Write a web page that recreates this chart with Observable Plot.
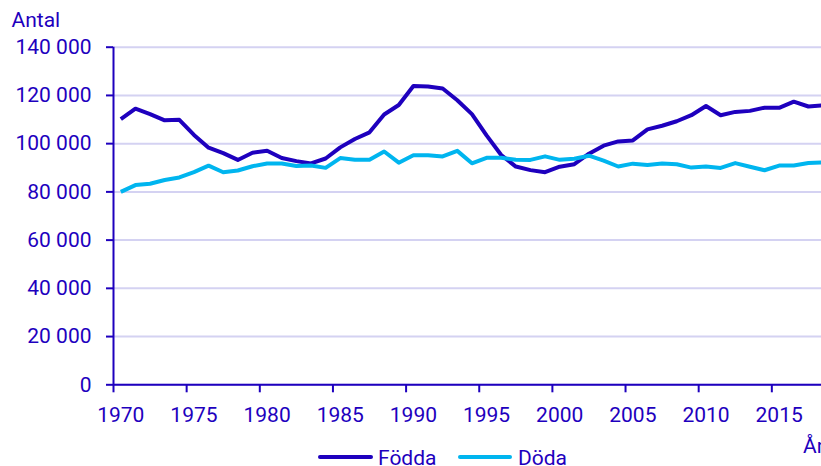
<!DOCTYPE html>
<html><head><meta charset="utf-8">
<script src="https://cdn.jsdelivr.net/npm/d3@7"></script>
<script src="https://cdn.jsdelivr.net/npm/@observablehq/plot@0.6"></script>
<style>
html,body{margin:0;padding:0;overflow:hidden;background:#fff;}
#wrap{position:relative;width:821px;height:466px;overflow:hidden;font-family:Roboto,sans-serif;color:#1e00be;background:#fff;}
#chart svg{display:block;max-width:none !important;width:840px !important;height:466px !important;}
.sw{position:absolute;height:4px;border-radius:2px;}
.lt{position:absolute;font-size:21px;line-height:16px;white-space:nowrap;}
</style></head>
<body><div id="wrap"><div id="chart"></div><div id="legend"></div></div>
<script>
const years = [1970,1971,1972,1973,1974,1975,1976,1977,1978,1979,1980,1981,1982,1983,1984,1985,1986,1987,1988,1989,1990,1991,1992,1993,1994,1995,1996,1997,1998,1999,2000,2001,2002,2003,2004,2005,2006,2007,2008,2009,2010,2011,2012,2013,2014,2015,2016,2017,2018];
const fodda = [110150,114484,112273,109663,109874,103632,98345,96057,93248,96255,97064,94065,92748,91780,93843,98463,101950,104699,112080,116023,123938,123737,122848,117998,112257,103422,95297,90502,89028,88173,90441,91466,95815,99157,100928,101346,105913,107421,109301,111801,115641,111770,113177,113593,114907,114870,117425,115416,115832];
const doda = [80026,82818,83398,84941,85978,88208,90863,88140,88880,90645,91800,91750,90774,90958,89962,94032,93295,93332,96743,92110,95161,95203,94710,97008,91844,94126,94133,93326,93271,94726,93285,93752,95009,92961,90532,91710,91177,91729,91449,90080,90487,89938,91938,90402,88976,90907,90982,91972,92185];
const tickYears = [1970,1975,1980,1985,1990,1995,2000,2005,2010,2015];
const yTicks = [0,20000,40000,60000,80000,100000,120000,140000];
const seriesNames = ["Födda","Döda"];
const seriesColors = ["#1e00be","#00b5ef"];
const yLabel = "Antal";
const xLabel = "År";

const dark = "#1e00be";
const rows = [];
years.forEach((yr, i) => {
  rows.push({year: yr, value: fodda[i], serie: seriesNames[0]});
  rows.push({year: yr, value: doda[i], serie: seriesNames[1]});
});
const fmt = d => d3.format(",")(d).replace(/,/g, " ");

const chart = Plot.plot({
  width: 840,
  height: 466,
  marginLeft: 113,
  marginRight: 16,
  marginTop: 46.7,
  marginBottom: 81.7,
  style: {fontFamily: "Roboto, sans-serif", fontSize: "21px", color: dark, background: "white", overflow: "visible", maxWidth: "none"},
  x: {domain: [1970, 2018.6], label: null},
  y: {domain: [0, 140000], label: null},
  color: {domain: seriesNames, range: seriesColors},
  marks: [
    Plot.gridY(yTicks, {stroke: "#d4d2f2", strokeOpacity: 1, strokeWidth: 2}),
    Plot.axisY(yTicks, {tickSize: 7, tickPadding: 15, tickFormat: fmt, strokeWidth: 2, label: null}),
    Plot.axisX(tickYears, {tickSize: 8, tickFormat: () => "", strokeWidth: 2, label: null}),
    Plot.axisX(tickYears.map(t => t + 0.5), {tickSize: 0, tickPadding: 22, tickFormat: d => String(Math.floor(d)), label: null}),
    Plot.ruleX([years[0]], {stroke: dark, strokeWidth: 2}),
    Plot.ruleY([0], {stroke: dark, strokeWidth: 2}),
    Plot.line(rows, {x: d => d.year + 0.5, y: "value", z: "serie", stroke: "serie", strokeWidth: 4, strokeLinejoin: "round", strokeLinecap: "butt"})
  ]
});
document.getElementById("chart").appendChild(chart);
const svg = d3.select(chart);
svg.append("text").attr("x", 11.5).attr("y", 27).attr("text-anchor", "start").attr("fill", dark).attr("font-size", 21).text(yLabel);
svg.append("text").attr("x", 803).attr("y", 453).attr("text-anchor", "start").attr("fill", dark).attr("font-size", 21).text(xLabel);

const leg = document.getElementById("legend");
const legItems = [
  {sw: 318, w: 55, tx: 378},
  {sw: 458, w: 54, tx: 518}
];
seriesNames.forEach((name, i) => {
  const s = document.createElement("div");
  s.className = "sw";
  s.style.left = legItems[i].sw + "px";
  s.style.top = "455.3px";
  s.style.width = legItems[i].w + "px";
  s.style.background = seriesColors[i];
  leg.appendChild(s);
  const t = document.createElement("div");
  t.className = "lt";
  t.style.left = legItems[i].tx + "px";
  t.style.top = "449.5px";
  t.textContent = name;
  leg.appendChild(t);
});
</script>
</body></html>
